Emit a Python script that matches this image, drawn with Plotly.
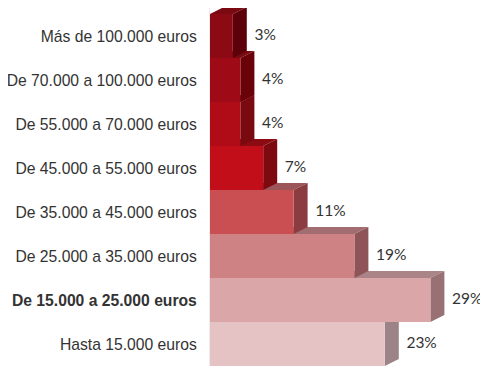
import plotly.graph_objects as go

# Data (bottom to top)
categories = [
    "Hasta 15.000 euros",
    "De 15.000 a 25.000 euros",
    "De 25.000 a 35.000 euros",
    "De 35.000 a 45.000 euros",
    "De 45.000 a 55.000 euros",
    "De 55.000 a 70.000 euros",
    "De 70.000 a 100.000 euros",
    "Más de 100.000 euros",
]
values = [23, 29, 19, 11, 7, 4, 4, 3]
labels = ["23%", "29%", "19%", "11%", "7%", "4%", "4%", "3%"]
bold_category = "De 15.000 a 25.000 euros"

front_colors = ["#E5C3C5", "#DBA6A8", "#CF8284", "#CA4F53", "#C10E19", "#B00C17", "#9E0A15", "#8C0A14"]
side_colors = ["#9C8387", "#977174", "#8F5457", "#8B3C40", "#7D0A10", "#780A10", "#6A0209", "#5C0009"]
top_colors = ["#B7999B", "#AA8486", "#A26D70", "#9C5558", "#8C0A12", "#860A12", "#7A0A12", "#7A0912"]

# Plot geometry (page has an 8px body margin, so the figure is shrunk/shifted)
W, H = 480, 371
ML, MR, MT, MB = 202, 0, 0, 13
px_per_unit_x = 7.6
px_per_unit_y = 44.0
x_max = (W - ML - MR) / px_per_unit_x
y_lo = -0.5
y_hi = 7.5 + 6 / px_per_unit_y
dx = 14 / px_per_unit_x
dy = 7 / px_per_unit_y
half = 0.5

fig = go.Figure()

for i, (v, fc, sc, tc) in enumerate(zip(values, front_colors, side_colors, top_colors)):
    yc = i
    # top face
    fig.add_trace(go.Scatter(
        x=[0, dx, v + dx, v, 0],
        y=[yc + half, yc + half + dy, yc + half + dy, yc + half, yc + half],
        fill="toself", fillcolor=tc, mode="lines", line=dict(width=0, color=tc),
        hoverinfo="skip", showlegend=False))
    # side face
    fig.add_trace(go.Scatter(
        x=[v, v + dx, v + dx, v, v],
        y=[yc - half, yc - half + dy, yc + half + dy, yc + half, yc - half],
        fill="toself", fillcolor=sc, mode="lines", line=dict(width=0, color=sc),
        hoverinfo="skip", showlegend=False))
    # front face
    fig.add_trace(go.Scatter(
        x=[0, v, v, 0, 0],
        y=[yc - half, yc - half, yc + half, yc + half, yc - half],
        fill="toself", fillcolor=fc, mode="lines", line=dict(width=0, color=fc),
        hoverinfo="skip", showlegend=False))

# value labels
fig.add_trace(go.Scatter(
    x=[v + dx + 1.0 for v in values],
    y=list(range(len(values))),
    mode="text", text=labels, textposition="middle right",
    textfont=dict(family="Lato", size=15.5, color="#333333"),
    hoverinfo="skip", showlegend=False, cliponaxis=False))

ticktext = [f"<b>{c}</b>" if c == bold_category else c for c in categories]

fig.update_layout(
    width=W, height=H,
    margin=dict(l=ML, r=MR, t=MT, b=MB, autoexpand=False),
    paper_bgcolor="white", plot_bgcolor="white",
    xaxis=dict(range=[0, x_max], visible=False, fixedrange=True, automargin=False),
    yaxis=dict(range=[y_lo, y_hi], tickvals=list(range(len(categories))), ticktext=ticktext,
               showgrid=False, zeroline=False, showline=True, linecolor="#ececec", linewidth=1,
               ticks="", ticklabelstandoff=9, automargin=False,
               tickfont=dict(family="Liberation Sans, Arial", size=15.7, color="#333333")),
)

fig.write_html("out.html")
